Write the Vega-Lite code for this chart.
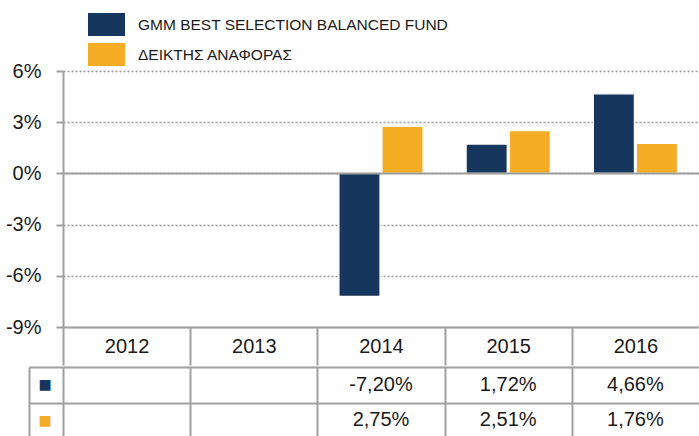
{
  "$schema": "https://vega.github.io/schema/vega-lite/v6.json",
  "background": "white",
  "padding": {"left": 5, "top": 6, "right": 0, "bottom": 0},
  "spacing": 0,
  "datasets": {
    "perf": [
      {"year": "2014", "series": "GMM BEST SELECTION BALANCED FUND", "value": -7.20},
      {"year": "2014", "series": "ΔΕΙΚΤΗΣ ΑΝΑΦΟΡΑΣ", "value": 2.75},
      {"year": "2015", "series": "GMM BEST SELECTION BALANCED FUND", "value": 1.72},
      {"year": "2015", "series": "ΔΕΙΚΤΗΣ ΑΝΑΦΟΡΑΣ", "value": 2.51},
      {"year": "2016", "series": "GMM BEST SELECTION BALANCED FUND", "value": 4.66},
      {"year": "2016", "series": "ΔΕΙΚΤΗΣ ΑΝΑΦΟΡΑΣ", "value": 1.76}
    ]
  },
  "resolve": {"scale": {"x": "independent", "y": "independent", "color": "independent"}, "legend": {"color": "independent"}, "axis": {"x": "independent", "y": "independent"}},
  "vconcat": [
    {
      "width": 636,
      "height": 256,
      "data": {"name": "perf"},
      "layer": [
        {
          "mark": {"type": "bar", "stroke": "white", "strokeWidth": 1.2},
          "encoding": {
            "x": {
              "field": "year", "type": "nominal",
              "scale": {"domain": ["2012", "2013", "2014", "2015", "2016"], "paddingInner": 0, "paddingOuter": 0},
              "axis": {
                "title": null, "orient": "bottom", "labelAngle": 0,
                "labelFont": "Liberation Sans", "labelFontSize": 20, "labelColor": "#1a1a1a",
                "domainColor": "#a0a0a0", "domainWidth": 2,
                "ticks": true, "tickOffset": -63.6, "labelOffset": 63.6, "tickSize": 38, "tickColor": "#a0a0a0", "tickWidth": 2,
                "labelPadding": -19, "labelBaseline": "middle", "labelFlush": false, "labelOverlap": false,
                "minExtent": 38, "maxExtent": 38, "grid": false
              }
            },
            "xOffset": {"field": "series", "type": "nominal", "scale": {"domain": ["GMM BEST SELECTION BALANCED FUND", "ΔΕΙΚΤΗΣ ΑΝΑΦΟΡΑΣ"], "paddingInner": 0.0465, "paddingOuter": 0.5}},
            "y": {
              "field": "value", "type": "quantitative",
              "scale": {"domain": [-9, 6], "nice": false},
              "axis": {
                "title": null, "values": [-9, -6, -3, 0, 3, 6], "labelExpr": "datum.value + '%'",
                "labelFont": "Liberation Sans", "labelFontSize": 20, "labelColor": "#1a1a1a", "labelPadding": 15,
                "tickSize": 7, "tickColor": "#a0a0a0", "tickWidth": 2,
                "domainColor": "#a0a0a0", "domainWidth": 2,
                "grid": true, "gridDash": [2, 2], "gridColor": "#999999", "gridWidth": 1.5
              }
            },
            "color": {
              "field": "series", "type": "nominal",
              "scale": {"domain": ["GMM BEST SELECTION BALANCED FUND", "ΔΕΙΚΤΗΣ ΑΝΑΦΟΡΑΣ"], "range": ["#17365d", "#f5ad25"]},
              "legend": {
                "title": null, "orient": "none", "legendX": 25, "legendY": -65, "direction": "vertical",
                "symbolType": "M-1,-0.62L1,-0.62L1,0.62L-1,0.62Z", "symbolSize": 1369, "symbolStrokeWidth": 0, "symbolOpacity": 1,
                "labelFont": "Liberation Sans", "labelFontSize": 15.5, "labelColor": "#1a1a1a", "labelOffset": 13, "labelLimit": 500,
                "rowPadding": -9, "padding": 0
              }
            }
          }
        },
        {
          "data": {"values": [{"v": 0}]},
          "mark": {"type": "rule", "color": "#a0a0a0", "strokeWidth": 2},
          "encoding": {"y": {"field": "v", "type": "quantitative"}}
        }
      ]
    },
    {
      "width": 636,
      "height": 71,
      "data": {"name": "perf"},
      "transform": [{"calculate": "replace(replace(format(datum.value, '.2f'), '.', ','), '−', '-') + '%'", "as": "label"}],
      "mark": {"type": "text", "font": "Liberation Sans", "fontSize": 20, "color": "#1a1a1a"},
      "encoding": {
        "x": {
          "field": "year", "type": "nominal",
          "scale": {"domain": ["2012", "2013", "2014", "2015", "2016"], "paddingInner": 0, "paddingOuter": 0},
          "axis": {"title": null, "labels": false, "ticks": false, "domain": false, "grid": true, "tickOffset": -63.6, "gridColor": "#a0a0a0", "gridWidth": 2}
        },
        "y": {
          "field": "series", "type": "nominal",
          "scale": {"domain": ["GMM BEST SELECTION BALANCED FUND", "ΔΕΙΚΤΗΣ ΑΝΑΦΟΡΑΣ"], "paddingInner": 0, "paddingOuter": 0},
          "axis": {
            "title": null, "orient": "left", "offset": 34, "tickOffset": -17.75,
            "domain": true, "domainColor": "#a0a0a0", "domainWidth": 2,
            "ticks": true, "tickSize": -34, "tickColor": "#a0a0a0", "tickWidth": 2,
            "grid": true, "gridColor": "#a0a0a0", "gridWidth": 2,
            "labelExpr": "'■'", "labelFont": "DejaVu Sans", "labelFontSize": 14,
            "labelColor": {"condition": {"test": "datum.value == 'GMM BEST SELECTION BALANCED FUND'", "value": "#17365d"}, "value": "#f5ad25"},
            "labelAlign": "center", "labelBaseline": "middle", "labelPadding": 18.5, "labelOffset": 17.75, "labelFlush": false, "labelOverlap": false
          }
        },
        "text": {"field": "label", "type": "nominal"}
      }
    }
  ],
  "config": {"view": {"stroke": null}}
}
